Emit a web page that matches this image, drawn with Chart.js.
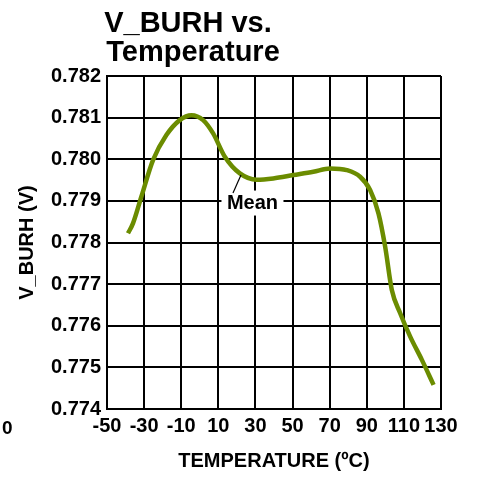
<!DOCTYPE html>
<html>
<head>
<meta charset="utf-8">
<script src="https://cdn.jsdelivr.net/npm/chart.js@4"></script>
<style>
html,body{margin:0;padding:0;background:#fff;}
#wrap{width:479px;height:477px;position:relative;}
</style>
</head>
<body>
<div id="wrap"><canvas id="c" width="479" height="477"></canvas></div>
<script>
const titleLines = ["V_BURH vs.", "Temperature"];
const xTitle = "TEMPERATURE (\u00BAC)";
const yTitle = "V_BURH (V)";
const xTicks = [-50, -30, -10, 10, 30, 50, 70, 90, 110, 130];
const yTicks = [0.774, 0.775, 0.776, 0.777, 0.778, 0.779, 0.780, 0.781, 0.782];
const temps = [-38.7, -36, -31.5, -25.2, -18, -10.8, -4.5, 1.8, 7.2, 13.5, 21.6, 30.6, 39.6, 50.4, 61.2, 70.2, 79.2, 86.4, 91.8, 96.3, 99.9, 103.5, 108, 113.4, 119.7, 126];
const vburh = [0.77822, 0.77846, 0.7791, 0.77998, 0.78058, 0.78094, 0.78106, 0.78094, 0.78062, 0.78006, 0.77966, 0.77951, 0.77954, 0.77962, 0.7797, 0.77978, 0.77974, 0.77958, 0.77926, 0.7787, 0.7779, 0.77686, 0.7763, 0.77574, 0.77518, 0.77458];
const seriesName = "Mean";
const strayLabel = "0";

const FONT = "'Liberation Sans', Arial, sans-serif";

const extras = {
  id: 'extras',
  afterDraw(chart) {
    const ctx = chart.ctx;
    const xs = chart.scales.x, ys = chart.scales.y;
    ctx.save();
    // Title
    ctx.fillStyle = '#000';
    ctx.font = "bold 29px " + FONT;
    ctx.textAlign = 'center';
    ctx.textBaseline = 'alphabetic';
    ctx.fillText(titleLines[0], 188, 32);
    ctx.fillText(titleLines[1], 193, 61);
    // Mean label
    const lx = xs.getPixelForValue(28.4), ly = ys.getPixelForValue(0.77896);
    ctx.font = "bold 20px " + FONT;
    ctx.fillStyle = '#fff';
    ctx.fillRect(lx - 31, ly - 12, 62, 25);
    ctx.fillStyle = '#000';
    ctx.textBaseline = 'middle';
    ctx.fillText(seriesName, lx, ly + 1);
    // pointer
    ctx.strokeStyle = '#000';
    ctx.lineWidth = 1.2;
    ctx.beginPath();
    ctx.moveTo(xs.getPixelForValue(17.9), ys.getPixelForValue(0.77919));
    ctx.lineTo(xs.getPixelForValue(22.2), ys.getPixelForValue(0.77962));
    ctx.stroke();
    // stray label
    ctx.font = "bold 19px " + FONT;
    ctx.textAlign = 'left';
    ctx.fillText(strayLabel, 2, 429);
    ctx.restore();
  }
};

new Chart(document.getElementById('c'), {
  type: 'line',
  data: {
    datasets: [{
      label: seriesName,
      data: temps.map((t, i) => ({x: t, y: vburh[i]})),
      borderColor: '#6B8C00',
      borderWidth: 4.5,
      pointRadius: 0,
      fill: false,
      cubicInterpolationMode: 'monotone'
    }]
  },
  options: {
    responsive: false,
    animation: false,
    layout: {padding: {top: 76, right: 38, left: 0, bottom: 0}},
    plugins: {legend: {display: false}, tooltip: {enabled: false}},
    scales: {
      x: {
        type: 'linear', min: -50, max: 130,
        afterBuildTicks(s) { s.ticks = xTicks.map(v => ({value: v})); },
        afterFit(s) { s.height = 477 - 409; },
        grid: {color: '#000', lineWidth: 2, drawTicks: false},
        border: {color: '#000', width: 2},
        ticks: {color: '#000', font: {family: FONT, size: 20, weight: 'bold'}, padding: 5, maxRotation: 0, autoSkip: false},
        title: {display: true, text: xTitle, color: '#000', font: {family: FONT, size: 20, weight: 'bold'}, padding: {top: 10}}
      },
      y: {
        type: 'linear', min: 0.774, max: 0.782,
        afterBuildTicks(s) { s.ticks = yTicks.map(v => ({value: v})); },
        afterFit(s) { s.width = 107; },
        grid: {color: '#000', lineWidth: 2, drawTicks: false},
        border: {color: '#000', width: 2},
        ticks: {color: '#000', font: {family: FONT, size: 20, weight: 'bold'}, padding: 6, callback: v => v.toFixed(3)},
        title: {display: true, text: yTitle, color: '#000', font: {family: FONT, size: 20, weight: 'bold'}, padding: {top: 15, bottom: 0}}
      }
    }
  },
  plugins: [extras]
});
</script>
</body>
</html>
